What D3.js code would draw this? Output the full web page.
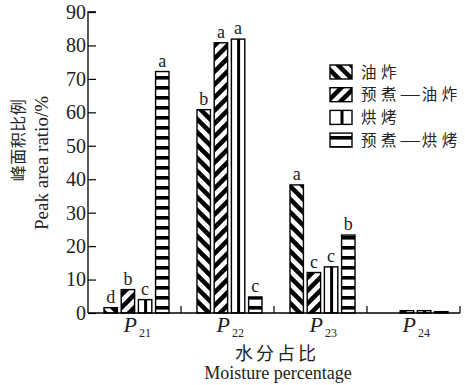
<!DOCTYPE html>
<html>
<head>
<meta charset="utf-8">
<script src="https://cdn.jsdelivr.net/npm/d3@7/dist/d3.min.js"></script>
<style>
  html, body { margin: 0; padding: 0; background: #fff; }
  svg { display: block; }
</style>
</head>
<body>
<svg id="chart" width="465" height="385"></svg>
<script>
// Peak categories along the x axis
const peaks = ["21", "22", "23", "24"];
// Processing methods (legend order)
const methods = ["油炸", "预煮—油炸", "烘烤", "预煮—烘烤"];
// Peak area ratio (%) per method, one value per peak
const fried        = [1.6, 60.8, 38.3, 0];
const boiledFried  = [7.0, 80.8, 12.1, 0.7];
const baked        = [4.0, 81.9, 13.8, 0.7];
const boiledBaked  = [72.2, 4.8, 23.3, 0.4];
// Significance letters per method, one per peak
const lettersFried       = ["d", "b", "a", ""];
const lettersBoiledFried = ["b", "a", "c", ""];
const lettersBaked       = ["c", "a", "c", ""];
const lettersBoiledBaked = ["a", "c", "b", ""];
// Y axis ticks
const yTicks = [0, 10, 20, 30, 40, 50, 60, 70, 80, 90];

const SERIF = "'Liberation Serif', 'DejaVu Serif', serif";
const CJK = "'Noto Sans CJK SC', sans-serif";

const seriesValues = [fried, boiledFried, baked, boiledBaked];
const seriesLetters = [lettersFried, lettersBoiledFried, lettersBaked, lettersBoiledBaked];

const svg = d3.select("#chart");
const x0 = 88, x1 = 460, yBottom = 313, yTop = 12;

const y = d3.scaleLinear().domain([0, 90]).range([yBottom, yTop]);
const xGroup = d3.scaleBand().domain(peaks).range([x0, x1]).paddingInner(0).paddingOuter(0);
const xInner = d3.scaleBand().domain(d3.range(methods.length)).range([16, 81]).paddingInner(0.22);

// Fill patterns
const defs = svg.append("defs");
const pBack = defs.append("pattern").attr("id", "pat0").attr("patternUnits", "userSpaceOnUse")
  .attr("width", 13).attr("height", 13);
pBack.append("rect").attr("width", 13).attr("height", 13).attr("fill", "#fff");
pBack.append("path").attr("d", "M-4,-4L17,17M-4,9L4,17M9,-4L17,4").attr("stroke", "#000").attr("stroke-width", 4.5);

const pFwd = defs.append("pattern").attr("id", "pat1").attr("patternUnits", "userSpaceOnUse")
  .attr("width", 13).attr("height", 13);
pFwd.append("rect").attr("width", 13).attr("height", 13).attr("fill", "#fff");
pFwd.append("path").attr("d", "M-4,17L17,-4M-4,4L4,-4M9,17L17,9").attr("stroke", "#000").attr("stroke-width", 4.5);

const pHoriz = defs.append("pattern").attr("id", "pat3").attr("patternUnits", "userSpaceOnUse")
  .attr("width", 10).attr("height", 10).attr("y", 3);
pHoriz.append("rect").attr("width", 10).attr("height", 10).attr("fill", "#fff");
pHoriz.append("rect").attr("y", 3).attr("width", 10).attr("height", 3.6).attr("fill", "#000");

const fills = ["url(#pat0)", "url(#pat1)", "#fff", "url(#pat3)"];

// Bars
const bars = [];
peaks.forEach((p, gi) => {
  seriesValues.forEach((vals, si) => {
    bars.push({ peak: p, si, v: vals[gi], letter: seriesLetters[si][gi] });
  });
});

const g = svg.append("g");
bars.forEach(d => {
  const bx = xGroup(d.peak) + xInner(d.si);
  const bw = xInner.bandwidth();
  if (d.v <= 0) return;
  const top = y(d.v), h = y(0) - y(d.v);
  g.append("rect").attr("x", bx).attr("y", top).attr("width", bw).attr("height", h)
    .attr("fill", fills[d.si]).attr("stroke", "#000").attr("stroke-width", 1.4);
  if (d.si === 2) {
    g.append("line").attr("x1", bx + bw / 2 + 0.5).attr("x2", bx + bw / 2 + 0.5)
      .attr("y1", top).attr("y2", y(0)).attr("stroke", "#000").attr("stroke-width", 3);
  }
  if (d.letter) {
    g.append("text").style("font-family", SERIF).attr("x", bx + bw / 2).attr("y", top - 5)
      .attr("text-anchor", "middle").attr("font-size", 18).attr("fill", "#222").text(d.letter);
  }
});

// Y axis
const yAxis = svg.append("g").attr("transform", `translate(${x0},0)`)
  .call(d3.axisLeft(y).tickValues(yTicks).tickSize(-8).tickPadding(3));
yAxis.select(".domain").attr("d", `M0,${yBottom}V${yTop}H8`).attr("stroke-width", 1.3);
yAxis.selectAll(".tick line").attr("stroke-width", 1.2);
yAxis.selectAll(".tick text").style("font-family", SERIF).style("font-size", "20px")
  .attr("fill", "#222").attr("x", -2);

// X axis line with separator ticks
const xAxis = svg.append("g");
xAxis.append("line").attr("x1", x0).attr("x2", x1).attr("y1", yBottom).attr("y2", yBottom)
  .attr("stroke", "#000").attr("stroke-width", 1.3);
peaks.forEach(p => {
  const tx = xGroup(p) + xGroup.bandwidth();
  xAxis.append("line").attr("x1", tx).attr("x2", tx).attr("y1", yBottom).attr("y2", yBottom - 7)
    .attr("stroke", "#000").attr("stroke-width", 1.2);
});

// Peak labels P with subscript
peaks.forEach(p => {
  const cx = xGroup(p) + (xInner.range()[0] + xInner.range()[1]) / 2;
  const t = svg.append("text").style("font-family", SERIF).attr("x", cx - 13).attr("y", 332)
    .attr("fill", "#222");
  t.append("tspan").attr("font-style", "italic").attr("font-size", 22).text("P");
  t.append("tspan").attr("font-size", 12).attr("dx", 2).attr("dy", 5).text(p);
});

// Axis titles
svg.append("text").style("font-family", CJK).attr("x", 277).attr("y", 360)
  .attr("text-anchor", "middle").attr("font-size", 18).attr("letter-spacing", 3).attr("fill", "#222")
  .text("水分占比");
svg.append("text").style("font-family", SERIF).attr("x", 278).attr("y", 379)
  .attr("text-anchor", "middle").attr("font-size", 18).attr("fill", "#222")
  .text("Moisture percentage");

svg.append("text").style("font-family", CJK).attr("transform", "translate(24,140) rotate(-90)")
  .attr("text-anchor", "middle").attr("font-size", 16).attr("letter-spacing", 0.5).attr("fill", "#222").text("峰面积比例");
svg.append("text").style("font-family", SERIF).attr("transform", "translate(48,163) rotate(-90)")
  .attr("text-anchor", "middle").attr("font-size", 19).attr("fill", "#222").text("Peak area ratio/%");

// Legend
const legend = svg.append("g");
methods.forEach((m, i) => {
  const ly = 72 + i * 22.7;
  const bx = 330, bw = 22, bh = 14;
  legend.append("rect").attr("x", bx).attr("y", ly - bh / 2).attr("width", bw).attr("height", bh)
    .attr("fill", fills[i]).attr("stroke", "#000").attr("stroke-width", 1.4);
  if (i === 2) {
    legend.append("line").attr("x1", bx + bw / 2 + 1).attr("x2", bx + bw / 2 + 1)
      .attr("y1", ly - bh / 2).attr("y2", ly + bh / 2).attr("stroke", "#000").attr("stroke-width", 3);
  }
  const t = legend.append("text").style("font-family", CJK).attr("x", 361).attr("y", ly + 5.5)
    .attr("font-size", 15.5).attr("letter-spacing", 4.4).attr("fill", "#222");
  // the long dash is drawn with a serif face so that it spans a full character width
  m.split(/(—)/).filter(s => s).forEach(part => {
    const ts = t.append("tspan").text(part);
    if (part === "—") ts.style("font-family", SERIF).attr("font-size", 19).attr("letter-spacing", 2);
  });
});
</script>
</body>
</html>
